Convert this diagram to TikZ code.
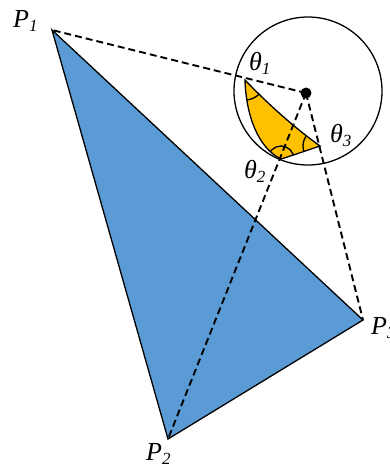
\documentclass[tikz,border=0pt]{standalone}
\usepackage{fontspec}
\setmainfont{Liberation Serif}
\definecolor{triblue}{HTML}{5B9BD5}
\definecolor{triyellow}{HTML}{FFC000}
\newcommand\sublabel[2]{\textit{#1}\raisebox{-0.4ex}{\fontsize{17}{17}\selectfont\textit{#2}}}
\begin{document}
\begin{tikzpicture}[x=1pt,y=1pt,
  lab/.style={font=\fontsize{26}{30}\selectfont, inner sep=0pt, anchor=base west},
  dashline/.style={dash pattern=on 7pt off 4pt, line width=1.9pt},
  outline/.style={line width=1.3pt}]
\useasboundingbox (0,0) rectangle (390,-467);
\coordinate (P1) at (52,-30);
\coordinate (P2) at (168,-439);
\coordinate (P3) at (363,-320);
\coordinate (A) at (245,-80);
\coordinate (B) at (281,-159);
\coordinate (C) at (320,-146);
\draw[outline, fill=triblue] (P1) -- (P2) -- (P3) -- cycle;
\node (S) [circle, draw, outline, minimum size=148pt, inner sep=0pt] at (308,-91) {};
\draw[outline, fill=triyellow] (A) .. controls (246,-115) and (258,-148) .. (B)
  .. controls (294,-155) and (308,-150) .. (C)
  .. controls (295,-128) and (270,-106) .. (A) -- cycle;
\begin{scope}
  \clip (A) .. controls (246,-115) and (258,-148) .. (B)
  .. controls (294,-155) and (308,-150) .. (C)
  .. controls (295,-128) and (270,-106) .. (A) -- cycle;
  \draw[outline] (A) circle (20) (B) circle (13) (C) circle (17);
\end{scope}
\node (O) [circle, fill, inner sep=0pt, minimum size=11pt] at (306,-93) {};
\draw[dashline] (O.center) -- (P1);
\draw[dashline] (O.center) -- (P2);
\draw[dashline] (O.center) -- (P3);
\node[lab] (LP1) at (13,-27) {\sublabel{P}{1}};
\node[lab] (LP2) at (146,-460) {\sublabel{P}{2}};
\node[lab] (LP3) at (371,-334) {\sublabel{P}{3}};
\node[lab] (LT1) at (249,-70) {\sublabel{θ}{1}};
\node[lab] (LT2) at (244,-178) {\sublabel{θ}{2}};
\node[lab] (LT3) at (330,-142) {\sublabel{θ}{3}};
\end{tikzpicture}
\end{document}
